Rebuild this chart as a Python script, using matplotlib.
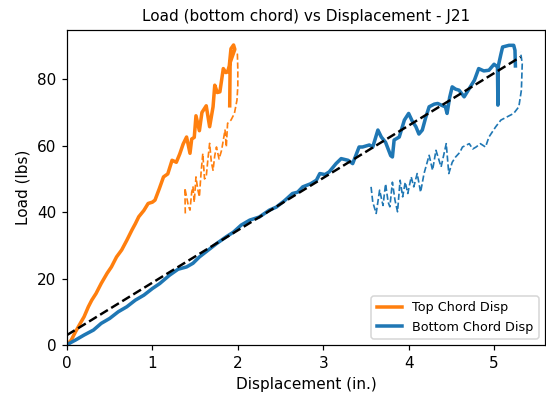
import matplotlib
matplotlib.use("Agg")
import matplotlib.pyplot as plt

# top chord displacement (in.) and load (lbs)
top_x = [0.00, 0.05, 0.10, 0.155, 0.20, 0.25, 0.29, 0.34, 0.40, 0.47, 0.52, 0.58,
         0.64, 0.70, 0.76, 0.80, 0.84, 0.90, 0.95, 1.00, 1.03, 1.08, 1.13, 1.18,
         1.23, 1.28, 1.32, 1.36, 1.40, 1.44, 1.46, 1.49, 1.51, 1.55, 1.58, 1.63,
         1.67, 1.71, 1.73, 1.76, 1.79, 1.83, 1.86, 1.88, 1.90, 1.92, 1.95, 1.965,
         1.91, 1.905]
top_y = [0.0, 1.5, 4.0, 6.5, 8.5, 11.5, 13.5, 15.5, 18.5, 21.6, 23.5, 26.5,
         28.6, 31.5, 34.6, 36.5, 38.6, 40.5, 42.6, 43.0, 43.6, 47.0, 50.6, 51.5,
         55.6, 55.0, 57.5, 60.5, 62.6, 57.7, 62.0, 62.5, 69.0, 64.5, 70.0, 72.0,
         65.7, 71.7, 78.2, 76.0, 76.2, 83.2, 82.0, 82.2, 84.0, 89.2, 90.3, 89.0,
         85.0, 72.0]

# top chord, second gauge (dashed)
top2_x = [1.385, 1.38, 1.42, 1.44, 1.46, 1.475, 1.49, 1.51, 1.53, 1.55, 1.57, 1.59,
          1.61, 1.63, 1.65, 1.67, 1.69, 1.71, 1.73, 1.75, 1.78, 1.81, 1.85, 1.865,
          1.88, 1.92, 1.96, 1.99, 2.00, 2.00, 1.995, 1.985]
top2_y = [39.6, 47.2, 42.0, 40.6, 46.0, 47.6, 43.0, 50.6, 47.0, 44.6, 52.0, 57.6,
          50.0, 50.6, 56.0, 60.7, 55.0, 52.6, 57.0, 59.6, 56.0, 58.6, 64.7, 59.6,
          66.7, 67.7, 69.7, 73.7, 78.0, 83.0, 87.5, 88.5]

# bottom chord
bot_x = [0.00, 0.035, 0.10, 0.20, 0.31, 0.40, 0.50, 0.60, 0.70, 0.80, 0.90, 1.00,
         1.086, 1.20, 1.30, 1.40, 1.475, 1.55, 1.65, 1.75, 1.866, 1.95, 2.04, 2.14,
         2.25, 2.37, 2.45, 2.55, 2.64, 2.70, 2.76, 2.85, 2.92, 2.96, 3.02, 3.07,
         3.15, 3.21, 3.29, 3.345, 3.42, 3.46, 3.54, 3.58, 3.64, 3.68, 3.73, 3.79,
         3.81, 3.83, 3.89, 3.95, 4.00, 4.04, 4.085, 4.12, 4.16, 4.20, 4.24, 4.30,
         4.34, 4.40, 4.43, 4.45, 4.48, 4.51, 4.55, 4.59, 4.65, 4.71, 4.77, 4.82,
         4.88, 4.94, 5.00, 5.04, 5.045, 5.05, 5.08, 5.10, 5.175, 5.23, 5.245, 5.25]
bot_y = [0.0, 0.6, 1.5, 3.0, 4.5, 6.5, 8.0, 10.0, 11.5, 13.5, 15.0, 17.0,
         18.5, 21.0, 22.8, 23.5, 24.6, 26.5, 28.5, 30.5, 32.6, 34.0, 36.1, 37.6,
         38.5, 40.6, 41.5, 43.5, 45.6, 46.0, 47.6, 48.5, 49.6, 51.6, 51.3, 52.1,
         54.6, 56.1, 55.6, 54.6, 59.6, 59.6, 60.2, 59.6, 64.7, 62.6, 61.0, 57.0,
         56.6, 61.7, 62.6, 67.7, 69.7, 67.5, 65.7, 63.5, 64.7, 68.5, 71.7, 72.5,
         72.7, 72.0, 71.7, 69.7, 74.5, 77.7, 77.0, 76.7, 74.7, 77.2, 79.7, 83.2,
         82.5, 82.7, 84.5, 83.7, 72.2, 84.0, 87.5, 89.7, 90.2, 90.2, 88.7, 84.0]

# bottom chord, second gauge (dashed)
bot2_x = [3.56, 3.58, 3.62, 3.66, 3.70, 3.73, 3.76, 3.78, 3.81, 3.84, 3.87, 3.90,
          3.93, 3.96, 3.99, 4.03, 4.06, 4.10, 4.14, 4.18, 4.24, 4.28, 4.32, 4.38,
          4.44, 4.47, 4.51, 4.55, 4.60, 4.63, 4.71, 4.75, 4.79, 4.84, 4.90, 4.94,
          5.02, 5.08, 5.155, 5.23, 5.29, 5.32, 5.33, 5.31]
bot2_y = [47.6, 43.0, 39.6, 46.6, 42.0, 48.5, 43.0, 41.6, 49.0, 43.6, 40.1, 49.6,
          44.6, 49.0, 45.6, 50.6, 47.6, 51.6, 46.0, 51.6, 57.1, 52.6, 58.6, 53.6,
          60.6, 51.6, 55.0, 56.6, 58.0, 59.6, 60.6, 59.0, 59.6, 60.6, 59.6, 62.6,
          65.7, 67.7, 68.7, 69.7, 71.7, 76.7, 84.7, 88.2]

# linear fit of the bottom chord
fit_x = [0.0, 5.31]
fit_y = [3.0, 86.7]

dpi = 110
fig = plt.figure(figsize=(546 / dpi, 402 / dpi), dpi=dpi)
ax = fig.add_axes([67 / 546, 1 - 345 / 402, 478 / 546, 315 / 402])

ax.plot(top_x, top_y, color="tab:orange", lw=2.3, label="Top Chord Disp")
ax.plot(top2_x, top2_y, color="tab:orange", lw=1.1, ls="--")
ax.plot(bot_x, bot_y, color="tab:blue", lw=2.3, label="Bottom Chord Disp")
ax.plot(bot2_x, bot2_y, color="tab:blue", lw=1.1, ls="--")
ax.plot(fit_x, fit_y, color="black", lw=1.6, ls="--")

ax.set_xlim(left=0)
ax.set_ylim(bottom=0)
ax.set_title("Load (bottom chord) vs Displacement - J21", fontsize=10)
ax.set_xlabel("Displacement (in.)")
ax.set_ylabel("Load (lbs)")
ax.legend(loc="lower right", fontsize="small")

fig.savefig("out.png", dpi=dpi)
